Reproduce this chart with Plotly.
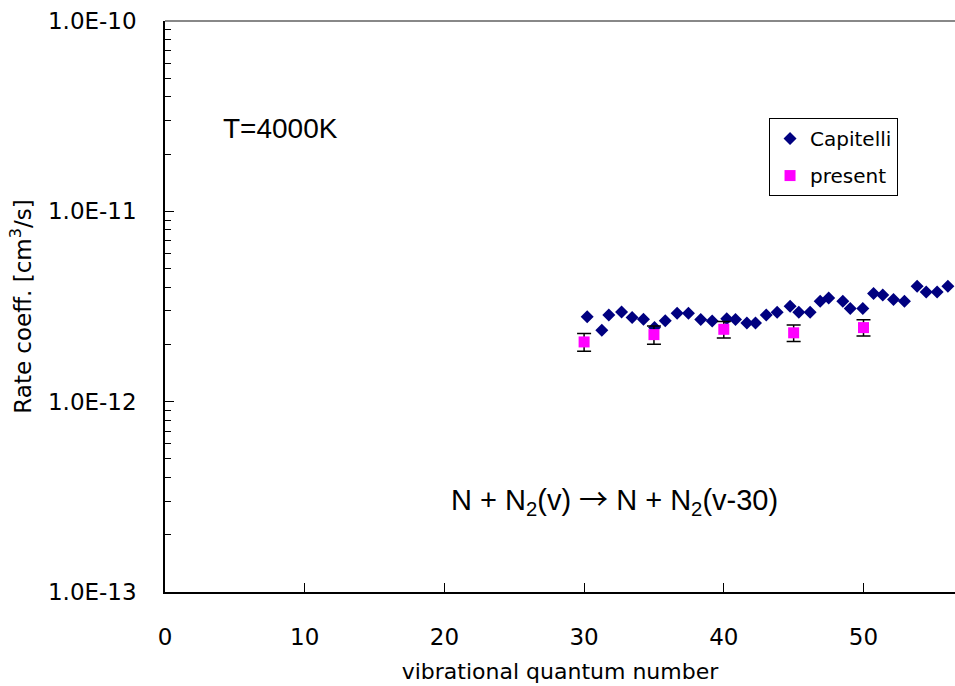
import plotly.graph_objects as go

# Capitelli rate coefficients (cm^3/s)
capitelli_v = [30.22, 31.27, 31.77, 32.68, 33.44, 34.25, 35.04, 35.81, 36.66, 37.47,
               38.35, 39.17, 40.21, 40.84, 41.65, 42.27, 43.04, 43.82, 44.75, 45.37,
               46.18, 46.90, 47.51, 48.52, 49.05, 49.95, 50.72, 51.38, 52.15, 52.93,
               53.84, 54.49, 55.27, 56.04]
capitelli_k = [2.79e-12, 2.37e-12, 2.85e-12, 2.96e-12, 2.77e-12, 2.71e-12, 2.45e-12, 2.66e-12,
               2.91e-12, 2.91e-12, 2.70e-12, 2.65e-12, 2.73e-12, 2.70e-12, 2.59e-12, 2.59e-12,
               2.85e-12, 2.95e-12, 3.17e-12, 2.95e-12, 2.95e-12, 3.37e-12, 3.50e-12, 3.37e-12,
               3.09e-12, 3.09e-12, 3.70e-12, 3.63e-12, 3.44e-12, 3.37e-12, 4.04e-12, 3.77e-12,
               3.77e-12, 4.04e-12]

# Present results with uncertainties
present_v = [30, 35, 40, 45, 50]
present_k = [2.06e-12, 2.25e-12, 2.40e-12, 2.30e-12, 2.45e-12]
present_err = [0.22e-12, 0.25e-12, 0.24e-12, 0.23e-12, 0.24e-12]

# Axis ticks
x_ticks = [0, 10, 20, 30, 40, 50]
y_ticks = [1e-13, 1e-12, 1e-11, 1e-10]
y_ticktext = ["1.0E-13", "1.0E-12", "1.0E-11", "1.0E-10"]
y_minor = [m * 10.0 ** e for e in (-13, -12, -11) for m in range(2, 10)]

FONT = "DejaVu Sans"
ARIAL = "Liberation Sans, Arial, sans-serif"
ARROW = "<span style=\"font-family:'Noto Sans CJK JP'\">\u2192</span>"

fig = go.Figure()
fig.add_trace(go.Scatter(
    x=capitelli_v, y=capitelli_k, mode="markers", name="Capitelli",
    legendgroup="a",
    marker=dict(symbol="diamond", size=10, color="#000080"),
))
fig.add_trace(go.Scatter(
    x=present_v, y=present_k, mode="markers", name="present",
    legendgroup="b",
    marker=dict(symbol="square", size=11, color="#FF00FF"),
    error_y=dict(type="data", array=present_err, visible=True,
                 color="black", thickness=1.5, width=7),
))

fig.update_layout(
    width=955, height=686,
    margin=dict(l=165, r=0, t=21, b=94),
    paper_bgcolor="white", plot_bgcolor="white",
    font=dict(family=FONT, color="black"),
    showlegend=True,
    legend=dict(
        x=0.7646, y=0.83, xanchor="left", yanchor="top",
        bgcolor="white", bordercolor="black", borderwidth=1,
        font=dict(family=FONT, size=20, color="black"),
        tracegroupgap=8,
    ),
    xaxis=dict(
        range=[0, 56.55], tickvals=x_ticks, ticks="inside", ticklen=9,
        tickcolor="black", tickwidth=1, showgrid=False, zeroline=False,
        showline=True, linecolor="black", linewidth=1.5,
        tickfont=dict(family=FONT, size=23), ticklabelstandoff=24,
        title=dict(text="vibrational quantum number",
                   font=dict(family=FONT, size=22), standoff=14),
    ),
    yaxis=dict(
        type="log", range=[-13, -10], tickvals=y_ticks, ticktext=y_ticktext,
        ticks="inside", ticklen=9, tickcolor="black", tickwidth=1,
        minor=dict(tickvals=y_minor, ticks="inside", ticklen=6,
                   tickcolor="black", tickwidth=1, showgrid=False),
        showgrid=False, zeroline=False, showline=True, linecolor="black",
        linewidth=1.5, tickfont=dict(family=FONT, size=23), ticklabelstandoff=22,
        title=dict(text="Rate coeff. [cm<sup>3</sup>/s]",
                   font=dict(family=FONT, size=23), standoff=10),
    ),
    shapes=[dict(type="line", xref="paper", yref="paper", x0=0, x1=1, y0=1, y1=1,
                 line=dict(color="#888888", width=2))],
    annotations=[
        dict(text="T=4000K", xref="paper", yref="paper",
             x=(221 - 165) / 790, y=1 - (128 - 21) / 571,
             xanchor="left", yanchor="middle", showarrow=False,
             font=dict(family=ARIAL, size=28, color="black")),
        dict(text="N + N<sub>2</sub>(v) " + ARROW + " N + N<sub>2</sub>(v-30)",
             xref="paper", yref="paper",
             x=(614 - 165) / 790, y=1 - (498 - 21) / 571,
             xanchor="center", yanchor="middle", showarrow=False,
             font=dict(family=ARIAL, size=29, color="black")),
    ],
)

fig.write_html("out.html")
